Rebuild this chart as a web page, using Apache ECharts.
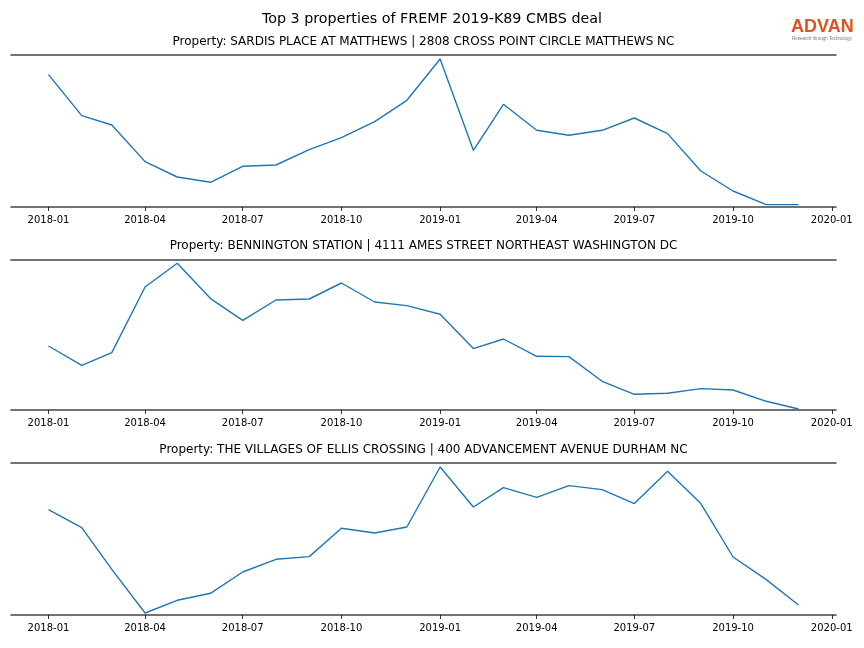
<!DOCTYPE html>
<html><head><meta charset="utf-8">
<script src="https://cdn.jsdelivr.net/npm/echarts@6/dist/echarts.min.js"></script>
<style>html,body{margin:0;padding:0;background:#fff}#c{width:864px;height:648px}</style>
</head><body><div id="c"></div>
<script>
const months = ['2018-01','2018-02','2018-03','2018-04','2018-05','2018-06','2018-07','2018-08','2018-09','2018-10','2018-11','2018-12',
                '2019-01','2019-02','2019-03','2019-04','2019-05','2019-06','2019-07','2019-08','2019-09','2019-10','2019-11','2019-12'];
const tickLabels = ['2018-01','2018-04','2018-07','2018-10','2019-01','2019-04','2019-07','2019-10','2020-01'];
const mainTitle = 'Top 3 properties of FREMF 2019-K89 CMBS deal';
const subTitles = [
  'Property: SARDIS PLACE AT MATTHEWS | 2808 CROSS POINT CIRCLE MATTHEWS NC',
  'Property: BENNINGTON STATION | 4111 AMES STREET NORTHEAST WASHINGTON DC',
  'Property: THE VILLAGES OF ELLIS CROSSING | 400 ADVANCEMENT AVENUE DURHAM NC'
];
const sardis = [132.4, 91.4, 82, 45.4, 30, 24.7, 40.7, 42, 57.4, 69.4, 85.4, 106.7, 148, 56.7, 102.7, 76.7, 71.7, 76.7, 89, 73.4, 36, 16, 2.4, 2.4];
const bennington = [64, 44.7, 57.4, 123, 146.7, 111.4, 89.7, 110, 111, 127, 108, 104.4, 95.7, 61.4, 71, 53.7, 53.4, 28.7, 15.7, 16.7, 21.4, 20, 8.7, 1];
const ellis = [105.4, 87.4, 45.7, 2, 14.7, 21.7, 43, 55.7, 58.4, 86.7, 82, 88, 148, 108, 127.4, 117.7, 129.4, 125.4, 111.4, 143.7, 111.4, 58, 35.4, 10];
const seriesValues = [sardis, bennington, ellis];
const yMax = [152, 150, 152];

function toTime(s){ const p = s.split('-').map(Number); return Date.UTC(p[0], p[1]-1, 1); }
function fmt(v){ const d = new Date(Math.round(v)); const m = d.getUTCMonth()+1; return d.getUTCFullYear() + '-' + (m<10?'0':'') + m; }

const t0 = toTime(months[0]), t1 = toTime(months[months.length-1]);
const pad = (t1 - t0) * 0.05;
const xMin = t0 - pad, xMax = t1 + pad;
const tickTimes = tickLabels.map(toTime);

const gridTops = [55, 260, 463];
const gridH = [152, 150, 152];
const spine = '#444444';
const font = 'DejaVu Sans';

const grids = [], xAxes = [], topAxes = [], yAxes = [], series = [], titles = [];
titles.push({ text: mainTitle, left: 432, top: 19.5, textAlign: 'center', textVerticalAlign: 'middle', padding: 0,
  textStyle: { fontFamily: font, fontSize: 14.3, fontWeight: 'normal', color: '#000' } });
const subCenters = [42, 246, 450];
for (let i = 0; i < 3; i++) {
  grids.push({ left: 11, width: 825, top: gridTops[i], height: gridH[i], containLabel: false });
  titles.push({ text: subTitles[i], left: 423.5, top: subCenters[i], textAlign: 'center', textVerticalAlign: 'middle', padding: 0,
    textStyle: { fontFamily: font, fontSize: 12, fontWeight: 'normal', color: '#000' } });
  xAxes.push({ type: 'value', gridIndex: i, min: xMin, max: xMax, position: 'bottom',
    axisLine: { show: true, lineStyle: { color: spine, width: 1.6 } },
    axisTick: { show: true, customValues: tickTimes, length: 4, lineStyle: { color: '#000', width: 0.8 } },
    axisLabel: { show: true, customValues: tickTimes, formatter: fmt, fontFamily: font, fontSize: 10, color: '#000', margin: 8, hideOverlap: false, showMinLabel: true, showMaxLabel: true },
    splitLine: { show: false } });
  topAxes.push({ type: 'value', gridIndex: i, position: 'top', min: 0, max: 1,
    axisLine: { show: true, lineStyle: { color: spine, width: 1.6 } },
    axisTick: { show: false }, axisLabel: { show: false }, splitLine: { show: false } });
  yAxes.push({ type: 'value', gridIndex: i, min: 0, max: yMax[i], show: false, splitLine: { show: false } });
  series.push({ type: 'line', xAxisIndex: i, yAxisIndex: i, symbol: 'none', silent: true,
    lineStyle: { color: '#1f77b4', width: 1.4 },
    data: months.map((m, k) => [toTime(m), seriesValues[i][k]]) });
}

const chart = echarts.init(document.getElementById('c'), null, { renderer: 'canvas' });
chart.setOption({
  animation: false,
  backgroundColor: '#fff',
  title: titles,
  grid: grids,
  xAxis: xAxes.concat(topAxes),
  yAxis: yAxes,
  series: series,
  graphic: [
    { type: 'text', left: 791, top: 18, style: { text: 'ADVAN', fontFamily: 'Liberation Sans', fontSize: 18, fontWeight: 'bold', fill: '#DD5420' } },
    { type: 'text', left: 792, top: 36, style: { text: 'Research through Technology', fontFamily: 'Liberation Sans', fontSize: 4.5, fill: '#777' } }
  ]
});
</script></body></html>
